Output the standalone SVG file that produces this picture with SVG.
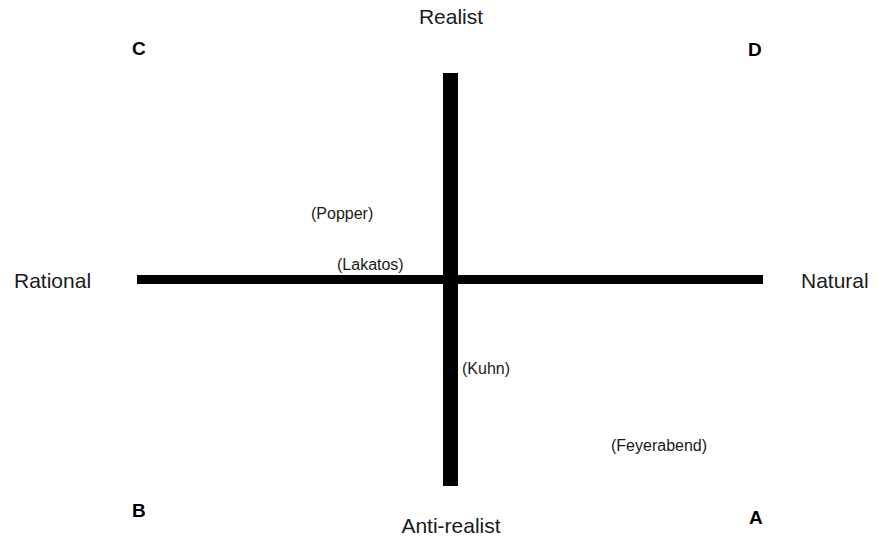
<svg xmlns="http://www.w3.org/2000/svg" width="878" height="539" viewBox="0 0 878 539">
<style>
.axis{font-family:"Liberation Sans",Arial,sans-serif;font-size:21px;fill:#1a1a1a}
.corner{font-family:"Liberation Sans",Arial,sans-serif;font-size:19px;font-weight:bold;fill:#000}
.name{font-family:"Liberation Sans",Arial,sans-serif;font-size:16px;fill:#1a1a1a}
.bar{fill:#000}
</style>
<rect width="878" height="539" fill="#fff"/>
<g id="connectors">
<rect class="bar" x="137" y="275" width="626" height="9"/>
<rect class="bar" x="443" y="73" width="15" height="413"/>
</g>
<g id="realist"><text class="axis" x="451" y="24" text-anchor="middle">Realist</text></g>
<g id="anti-realist"><text class="axis" x="451" y="533" text-anchor="middle">Anti-realist</text></g>
<g id="rational"><text class="axis" x="14" y="288">Rational</text></g>
<g id="natural"><text class="axis" x="801" y="288">Natural</text></g>
<g id="C"><text class="corner" x="132" y="55">C</text></g>
<g id="D"><text class="corner" x="748" y="56">D</text></g>
<g id="B"><text class="corner" x="132" y="517">B</text></g>
<g id="A"><text class="corner" x="749" y="524">A</text></g>
<g id="popper"><text class="name" x="311" y="219">(Popper)</text></g>
<g id="lakatos"><text class="name" x="337" y="270">(Lakatos)</text></g>
<g id="kuhn"><text class="name" x="462" y="374">(Kuhn)</text></g>
<g id="feyerabend"><text class="name" x="611" y="451">(Feyerabend)</text></g>
</svg>
